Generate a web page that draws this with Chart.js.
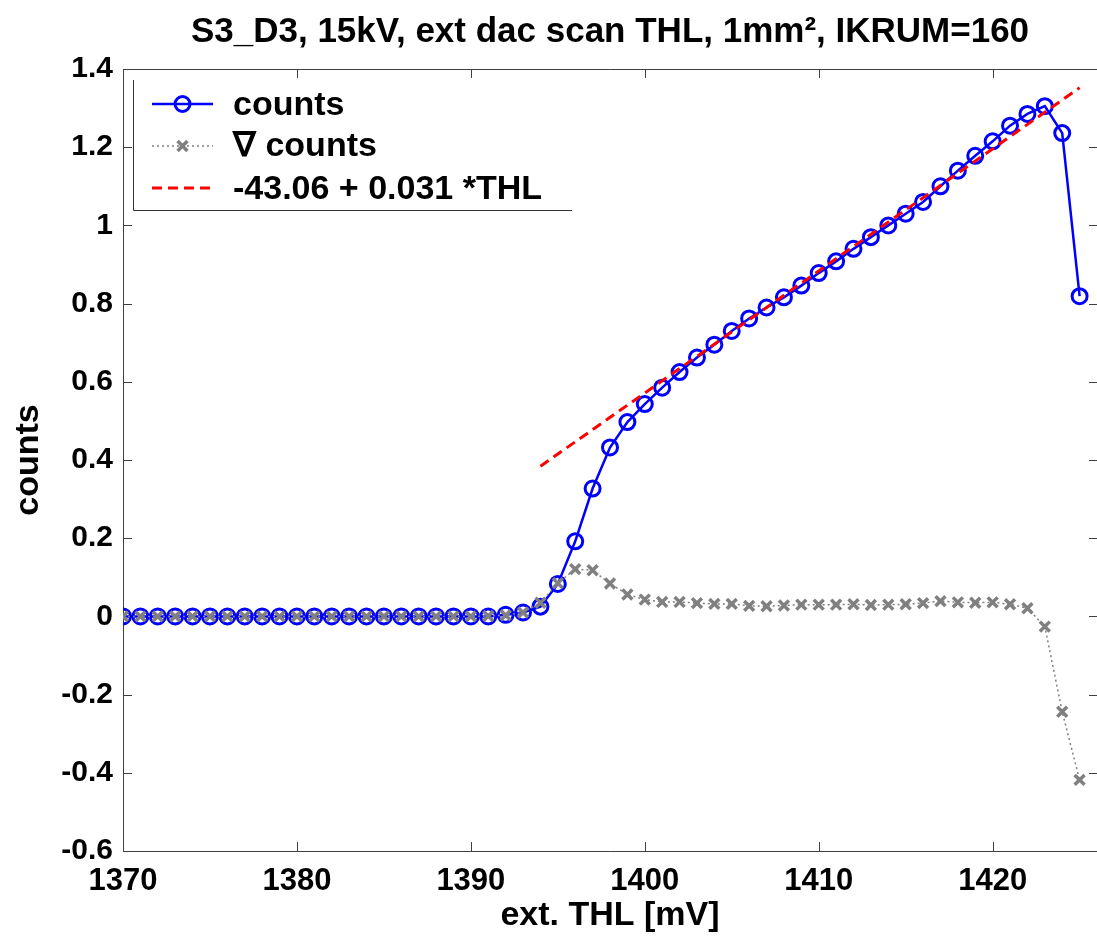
<!DOCTYPE html>
<html><head><meta charset="utf-8">
<script src="https://cdn.jsdelivr.net/npm/chart.js@4.4.1/dist/chart.umd.min.js"></script>
<style>html,body{margin:0;padding:0;background:#fff;}canvas{display:block;}</style>
</head><body>
<canvas id="c" width="1097" height="939"></canvas>
<script>
const thl = [1370,1371,1372,1373,1374,1375,1376,1377,1378,1379,
             1380,1381,1382,1383,1384,1385,1386,1387,1388,1389,
             1390,1391,1392,1393,1394,1395,1396,1397,1398,1399,
             1400,1401,1402,1403,1404,1405,1406,1407,1408,1409,
             1410,1411,1412,1413,1414,1415,1416,1417,1418,1419,
             1420,1421,1422,1423,1424,1425];
const counts = [0,0,0,0,0,0,0,0,0,0,
                0,0,0,0,0,0,0,0,0,0,
                0,0,0.004,0.010,0.025,0.083,0.192,0.327,0.432,0.497,
                0.543,0.585,0.625,0.662,0.695,0.730,0.762,0.790,0.816,0.846,
                0.878,0.908,0.940,0.970,1.000,1.030,1.060,1.100,1.140,1.178,
                1.215,1.255,1.285,1.305,1.236,0.819];
const gradCounts = [0,0,0,0,0,0,0,0,0,0,
                    0,0,0,0,0,0,0,0,0,0,
                    0,0.001,0.003,0.010,0.035,0.085,0.121,0.118,0.084,0.056,
                    0.043,0.037,0.037,0.034,0.032,0.032,0.027,0.026,0.028,0.030,
                    0.030,0.030,0.031,0.029,0.030,0.031,0.034,0.039,0.036,0.035,
                    0.036,0.031,0.021,-0.026,-0.244,-0.418];
const fitThl = [1394, 1425];
const fitCounts = [0.384, 1.352];
const xTickValues = [1370,1380,1390,1400,1410,1420];
const yTickValues = [-0.6,-0.4,-0.2,0,0.2,0.4,0.6,0.8,1,1.2,1.4];
const yTickLabels = ['-0.6','-0.4','-0.2','0','0.2','0.4','0.6','0.8','1','1.2','1.4'];
const titleText = 'S3_D3, 15kV, ext dac scan THL, 1mm\u00B2, IKRUM=160';
const xTitleText = 'ext. THL [mV]';
const yTitleText = 'counts';
const legendLabels = ['counts', '\u2207 counts', '-43.06 + 0.031 *THL'];

const RF = '"Liberation Sans", Arial, Helvetica, sans-serif';
const titleSize = 35;
const titleLH = titleSize * 1.2;
const titlePadTop = 32 - titleLH / 2;
const titlePadBottom = 69 - titleLH - titlePadTop;
const xTickSize = 31;
const xTickPad = 881 - 851 - (xTickSize * 1.2) / 2;
const xTitleSize = 34;
const xTitlePad = Math.max(0, 23 - (xTitleSize * 1.2) / 2);

const AXIS = '#404040';

const framePlugin = {
  id: 'frame',
  beforeDatasetsDraw(chart) {
    const {ctx, chartArea: a, scales: {x, y}} = chart;
    ctx.save();
    ctx.strokeStyle = AXIS;
    ctx.lineWidth = 1;
    ctx.beginPath();
    ctx.moveTo(a.right + 2, a.top + 0.5);
    ctx.lineTo(a.left + 0.5, a.top + 0.5);
    ctx.lineTo(a.left + 0.5, a.bottom + 0.5);
    ctx.lineTo(a.right + 2, a.bottom + 0.5);
    const L = 9;
    xTickValues.forEach(v => {
      const px = Math.round(x.getPixelForValue(v)) + 0.5;
      ctx.moveTo(px, a.bottom); ctx.lineTo(px, a.bottom - L);
      ctx.moveTo(px, a.top); ctx.lineTo(px, a.top + L);
    });
    yTickValues.forEach(v => {
      const py = Math.round(y.getPixelForValue(v)) + 0.5;
      ctx.moveTo(a.left, py); ctx.lineTo(a.left + L, py);
      ctx.moveTo(a.right + 1, py); ctx.lineTo(a.right + 1 - L, py);
    });
    ctx.stroke();
    ctx.restore();
  }
};

const legendPlugin = {
  id: 'matlabLegend',
  afterDraw(chart) {
    const ctx = chart.ctx;
    ctx.save();
    ctx.fillStyle = '#fff';
    ctx.fillRect(134, 80, 438, 130);
    ctx.strokeStyle = '#333';
    ctx.lineWidth = 1;
    ctx.beginPath();
    ctx.moveTo(133.5, 80); ctx.lineTo(133.5, 210.5); ctx.lineTo(572, 210.5);
    ctx.stroke();
    const sampleY = [104, 146, 188];
    const textY = [106, 147, 190];
    chart.data.datasets.forEach((ds, i) => {
      const yy = sampleY[i];
      ctx.save();
      ctx.strokeStyle = ds.borderColor;
      ctx.lineWidth = ds.borderWidth;
      ctx.setLineDash(ds.borderDash || []);
      ctx.beginPath(); ctx.moveTo(152, yy); ctx.lineTo(213, yy); ctx.stroke();
      ctx.setLineDash([]);
      if (ds.pointRadius > 0) {
        ctx.strokeStyle = ds.pointBorderColor;
        ctx.fillStyle = ds.pointBackgroundColor;
        ctx.lineWidth = ds.pointBorderWidth;
        Chart.helpers.drawPoint(ctx, {pointStyle: ds.pointStyle, radius: ds.pointRadius, borderWidth: ds.pointBorderWidth, rotation: 0}, 182.5, yy);
      }
      ctx.restore();
      ctx.fillStyle = '#000';
      ctx.font = 'bold 34px ' + RF;
      ctx.textBaseline = 'middle';
      ctx.textAlign = 'left';
      ctx.fillText(legendLabels[i], 233, textY[i]);
    });
    ctx.restore();
  }
};

new Chart(document.getElementById('c'), {
  type: 'line',
  data: {
    datasets: [
      {
        label: legendLabels[0],
        data: thl.map((v, i) => ({x: v, y: counts[i]})),
        borderColor: '#0000ff', borderWidth: 2.5, tension: 0, fill: false,
        pointStyle: 'circle', pointRadius: 7.5, pointBorderWidth: 3,
        pointBorderColor: '#0000ff', pointBackgroundColor: 'rgba(0,0,0,0)',
        order: 3
      },
      {
        label: legendLabels[1],
        data: thl.map((v, i) => ({x: v, y: gradCounts[i]})),
        borderColor: '#808080', borderWidth: 1.5, borderDash: [2, 3], tension: 0, fill: false,
        pointStyle: 'crossRot', pointRadius: 7, pointBorderWidth: 3.5,
        pointBorderColor: '#808080', pointBackgroundColor: 'rgba(0,0,0,0)',
        order: 2
      },
      {
        label: legendLabels[2],
        data: fitThl.map((v, i) => ({x: v, y: fitCounts[i]})),
        borderColor: '#ff0000', borderWidth: 3, borderDash: [10, 6], tension: 0, fill: false,
        pointRadius: 0, order: 1
      }
    ]
  },
  options: {
    responsive: false, animation: false, devicePixelRatio: 1,
    layout: {padding: 0, autoPadding: false},
    events: [],
    plugins: {
      legend: {display: false},
      tooltip: {enabled: false},
      title: {
        display: true, text: titleText, fullSize: false, color: '#000',
        font: {family: RF, size: titleSize, weight: 'bold'},
        padding: {top: titlePadTop, bottom: titlePadBottom}
      }
    },
    scales: {
      x: {
        type: 'linear', min: 1370, max: 1426,
        afterBuildTicks: s => { s.ticks = xTickValues.map(v => ({value: v})); },
        afterFit: s => { s.height = 88; s.paddingLeft = 0; s.paddingRight = 0; },
        grid: {display: false, drawTicks: false},
        border: {display: false},
        ticks: {
          color: '#000', padding: xTickPad, autoSkip: false, maxRotation: 0,
          font: {family: RF, size: xTickSize, weight: 'bold'},
          callback: v => String(v)
        },
        title: {
          display: true, text: xTitleText, color: '#000',
          font: {family: RF, size: xTitleSize, weight: 'bold'},
          padding: {top: 0, bottom: xTitlePad}
        }
      },
      y: {
        type: 'linear', min: -0.6, max: 1.4,
        afterBuildTicks: s => { s.ticks = yTickValues.map(v => ({value: v})); },
        afterFit: s => { s.width = 123; s.paddingTop = 0; s.paddingBottom = 0; },
        grid: {display: false, drawTicks: false},
        border: {display: false},
        ticks: {
          color: '#000', padding: 10, autoSkip: false,
          font: {family: RF, size: 30, weight: 'bold'},
          callback: v => {
            const i = yTickValues.findIndex(t => Math.abs(t - v) < 1e-9);
            return i >= 0 ? yTickLabels[i] : '';
          }
        },
        title: {
          display: true, text: yTitleText, color: '#000',
          font: {family: RF, size: 34, weight: 'bold'},
          padding: {top: 8, bottom: 0}
        }
      }
    }
  },
  plugins: [framePlugin, legendPlugin]
});
</script>
</body></html>
